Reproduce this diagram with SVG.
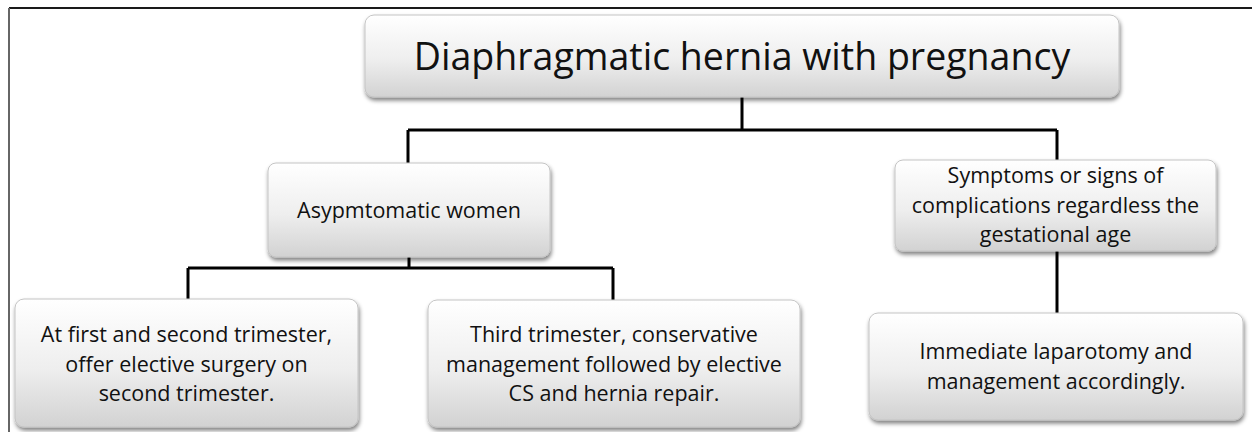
<svg xmlns="http://www.w3.org/2000/svg" width="1252" height="432" viewBox="0 0 1252 432">
  <style>
    .box { fill: url(#grad); stroke: #c4c4c4; stroke-width: 1; filter: url(#shadow); }
    .t { font-family: "Open Sans", "Liberation Sans", sans-serif; font-size: 21.5px; fill: #111; text-anchor: middle; }
    .title { font-size: 37.5px; }
    .conn { stroke: #000; stroke-width: 3; fill: none; }
  </style>
  <defs>
    <linearGradient id="grad" x1="0" y1="0" x2="0" y2="1">
      <stop offset="0" stop-color="#ffffff"/>
      <stop offset="0.55" stop-color="#eeeeee"/>
      <stop offset="1" stop-color="#d2d2d2"/>
    </linearGradient>
    <filter id="shadow" x="-10%" y="-10%" width="125%" height="135%">
      <feGaussianBlur in="SourceAlpha" stdDeviation="2"/>
      <feOffset dx="1" dy="3" result="b"/>
      <feComponentTransfer><feFuncA type="linear" slope="0.5"/></feComponentTransfer>
      <feMerge><feMergeNode/><feMergeNode in="SourceGraphic"/></feMerge>
    </filter>
  </defs>
  <rect width="1252" height="432" fill="#fff"/>
  <g id="frame">
    <line x1="9" y1="8" x2="1252" y2="8" stroke="#1a1a1a" stroke-width="2"/>
    <line x1="9" y1="8" x2="9" y2="432" stroke="#666" stroke-width="2"/>
  </g>
  <g id="connectors">
    <path class="conn" d="M742,97 V130 M408,130 H1057 M408,130 V163 M1057,130 V160"/>
    <path class="conn" d="M409,257 V268 M188,268 H613 M188,268 V299 M613,268 V300"/>
    <path class="conn" d="M1057,251 V313"/>
  </g>
  <g id="title">
    <rect class="box" x="365" y="15" width="754" height="82" rx="9"/>
    <text class="t title" x="742" y="70">Diaphragmatic hernia with pregnancy</text>
  </g>
  <g id="asymptomatic">
    <rect class="box" x="268" y="163" width="282" height="94" rx="8"/>
    <text class="t" x="409" y="218">Asypmtomatic women</text>
  </g>
  <g id="first-second">
    <rect class="box" x="15" y="299" width="343" height="128" rx="9"/>
    <text class="t" x="186.5" y="342">At first and second trimester,</text>
    <text class="t" x="186.5" y="371.5">offer elective surgery on</text>
    <text class="t" x="186.5" y="401">second trimester.</text>
  </g>
  <g id="third">
    <rect class="box" x="428" y="300" width="372" height="127" rx="9"/>
    <text class="t" x="614" y="342">Third trimester, conservative</text>
    <text class="t" x="614" y="371.5">management followed by elective</text>
    <text class="t" x="614" y="401">CS and hernia repair.</text>
  </g>
  <g id="symptoms">
    <rect class="box" x="895" y="160" width="321" height="91" rx="8"/>
    <text class="t" x="1055.5" y="183">Symptoms or signs of</text>
    <text class="t" x="1055.5" y="212.5">complications regardless the</text>
    <text class="t" x="1055.5" y="242">gestational age</text>
  </g>
  <g id="immediate">
    <rect class="box" x="869" y="313" width="374" height="107" rx="9"/>
    <text class="t" x="1056" y="359">Immediate laparotomy and</text>
    <text class="t" x="1056" y="388.5">management accordingly.</text>
  </g>
</svg>
